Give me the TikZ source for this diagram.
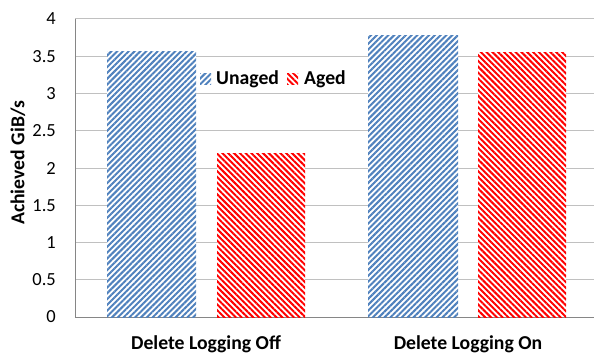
\documentclass[tikz,border=0pt]{standalone}
\usepackage{fontspec}
\setmainfont{Carlito}
\usetikzlibrary{patterns.meta}
\definecolor{barblue}{RGB}{79,129,189}
\definecolor{barred}{RGB}{255,0,0}
\definecolor{gridgray}{RGB}{192,192,192}
\definecolor{axisgray}{RGB}{134,134,134}
\begin{document}
\begin{tikzpicture}[x=1pt,y=1pt,
  unagedfill/.style={preaction={fill=white},pattern={Lines[angle=45,distance=4.1pt,line width=2pt]},pattern color=barblue},
  agedfill/.style={preaction={fill=white},pattern={Lines[angle=-45,distance=4.1pt,line width=2pt]},pattern color=barred},
  gridline/.style={draw=gridgray,line width=1pt},
  axisline/.style={draw=axisgray,line width=1pt},
  ticklabel/.style={anchor=east,inner sep=0pt,font=\fontsize{18.5}{22}\selectfont},
  catlabel/.style={anchor=base,inner sep=0pt,font=\fontsize{19.7}{23}\selectfont\bfseries},
  legendlabel/.style={anchor=base west,inner sep=0pt,font=\fontsize{19.7}{23}\selectfont\bfseries}]
\useasboundingbox[fill=white] (0,0) rectangle (594,354);
% grid lines
\foreach \v in {0.5,1,...,4} {
  \draw[gridline] (75,37+74.5*\v) -- (594,37+74.5*\v);
}
% axes
\draw[axisline] (75,37) -- (75,335);
\draw[axisline] (75,37) -- (594,37);
% tick labels
\foreach \v/\t [count=\i] in {0/0,0.5/0.5,1/1,1.5/1.5,2/2,2.5/2.5,3/3,3.5/3.5,4/4} {
  \node[ticklabel] (tick\i) at (56,37+74.5*\v) {\t};
}
% bars
\path[unagedfill] (107,37) rectangle (196,37+74.5*3.57);
\path[agedfill] (217,37) rectangle (305,37+74.5*2.19);
\path[unagedfill] (368,37) rectangle (458,37+74.5*3.78);
\path[agedfill] (478,37) rectangle (566,37+74.5*3.55);
% legend
\path[unagedfill] (200,269) rectangle (211,280);
\node[legendlabel] (legU) at (216,269) {Unaged};
\path[agedfill] (287,269) rectangle (298,280);
\node[legendlabel] (legA) at (304,269) {Aged};
% axis title
\node[rotate=90,font=\fontsize{19.7}{23}\selectfont\bfseries,inner sep=0pt] (ylab) at (18,191) {Achieved GiB/s};
% category labels
\node[catlabel] (cat1) at (206,5) {Delete Logging Off};
\node[catlabel] (cat2) at (468,5) {Delete Logging On};
\end{tikzpicture}
\end{document}
